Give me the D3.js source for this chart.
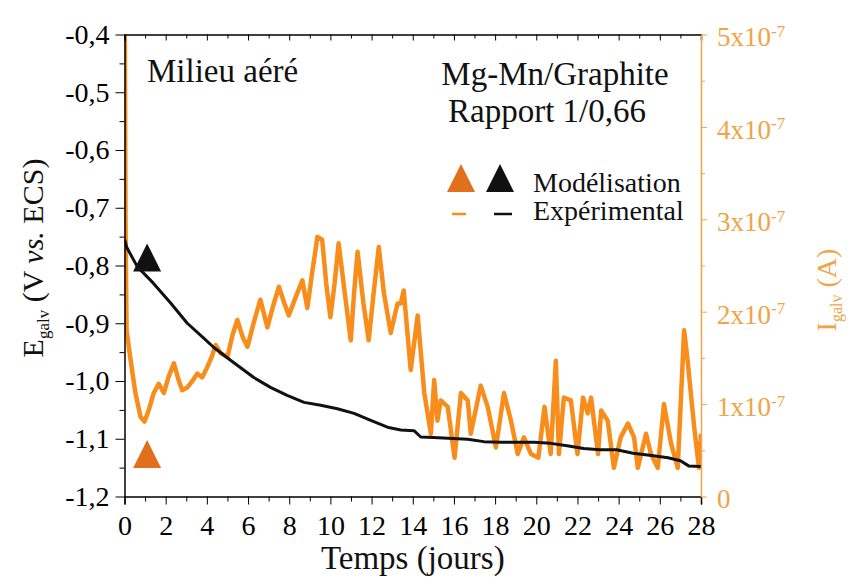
<!DOCTYPE html>
<html>
<head>
<meta charset="utf-8">
<script src="https://cdn.jsdelivr.net/npm/d3@7"></script>
<style>
  html, body { margin: 0; padding: 0; background: #fff; }
  svg { display: block; font-family: "Liberation Serif", "DejaVu Serif", serif; }
</style>
</head>
<body>
<svg id="chart" width="850" height="577"></svg>
<script>
// ---------- DATA ----------
// Experimental galvanic potential (black, left axis), time in days
const tE = [0, 0.1, 0.62, 1.41, 2.24, 3.05, 3.86, 4.34, 5.15, 6.28, 7.09, 7.9, 8.72, 9.53, 10.34, 11.15, 11.96, 12.77, 13.42, 14.06, 14.39, 15.0, 16.67, 17.45, 18.3, 19.9, 20.7, 21.5, 22.3, 23.1, 23.9, 24.7, 25.6, 26.4, 27.0, 27.4, 28.0];
const E = [-0.755, -0.768, -0.802, -0.831, -0.865, -0.9, -0.926, -0.942, -0.964, -0.994, -1.011, -1.025, -1.037, -1.042, -1.048, -1.056, -1.068, -1.08, -1.085, -1.086, -1.097, -1.098, -1.101, -1.105, -1.106, -1.106, -1.108, -1.112, -1.117, -1.119, -1.119, -1.125, -1.129, -1.133, -1.138, -1.147, -1.148];

// Experimental galvanic current (orange, right axis), in units of 1e-7 A
const tI = [0, 0.05, 0.1, 0.3, 0.53, 0.78, 0.97, 1.17, 1.42, 1.66, 1.91, 2.15, 2.4, 2.6, 2.8, 3.05, 3.3, 3.53, 3.78, 4.02, 4.25, 4.43, 4.67, 5.0, 5.25, 5.48, 5.75, 5.97, 6.3, 6.6, 6.94, 7.2, 7.5, 7.75, 7.98, 8.3, 8.64, 8.88, 9.1, 9.37, 9.6, 9.8, 10.0, 10.2, 10.4, 10.7, 10.99, 11.15, 11.32, 11.6, 11.86, 12.1, 12.35, 12.6, 12.93, 13.26, 13.42, 13.56, 13.9, 14.24, 14.56, 14.88, 15.04, 15.2, 15.36, 15.7, 16.03, 16.34, 16.67, 16.82, 17.3, 17.64, 18.04, 18.43, 18.77, 19.1, 19.4, 19.74, 20.1, 20.4, 20.7, 20.95, 21.1, 21.34, 21.68, 22.0, 22.27, 22.5, 22.66, 23.0, 23.15, 23.47, 23.77, 24.1, 24.45, 24.75, 24.93, 25.33, 25.57, 25.9, 26.2, 26.55, 26.87, 27.18, 27.35, 27.67, 27.9, 28.0];
const I = [6.0, 3.0, 1.8, 1.47, 1.12, 0.86, 0.81, 0.93, 1.12, 1.22, 1.12, 1.3, 1.44, 1.28, 1.15, 1.18, 1.25, 1.33, 1.29, 1.4, 1.52, 1.64, 1.55, 1.51, 1.75, 1.91, 1.72, 1.62, 1.9, 2.13, 1.83, 2.05, 2.27, 2.1, 1.96, 2.15, 2.34, 2.04, 2.4, 2.81, 2.78, 2.3, 1.94, 2.3, 2.74, 2.2, 1.69, 2.2, 2.65, 2.1, 1.69, 2.2, 2.7, 2.2, 1.77, 2.09, 2.09, 2.23, 1.37, 1.96, 1.12, 0.68, 1.26, 0.82, 1.04, 0.97, 0.42, 1.12, 1.04, 0.68, 1.2, 0.97, 0.53, 1.12, 0.82, 0.46, 0.64, 0.46, 0.42, 0.97, 0.46, 1.47, 0.46, 1.07, 1.04, 0.46, 1.07, 0.9, 1.07, 0.46, 0.93, 0.82, 0.31, 0.64, 0.79, 0.64, 0.31, 0.68, 0.46, 0.31, 1.0, 0.57, 0.31, 1.8, 1.47, 0.75, 0.31, 0.68];

// Modelled points
const tModel = [1.1];
const EModel = [-0.786];
const IModel = [0.46];

// Axis ticks
const xTicks = d3.range(0, 29, 2);
const yLeftTicks = [-0.4, -0.5, -0.6, -0.7, -0.8, -0.9, -1.0, -1.1, -1.2];
const yRightTicks = [0, 1, 2, 3, 4, 5];

// Texts
const legendLabels = ["Modélisation", "Expérimental"];
const annotMilieu = "Milieu aéré";
const annotSystem = ["Mg-Mn/Graphite", "Rapport 1/0,66"];

// ---------- LAYOUT ----------
const FONT = '"Liberation Serif", "DejaVu Serif", serif';
const L = 124.5, R = 701, T = 34.5, B = 496.5;
const cBlack = "#111";
const cOrange = "#f88d1c";
const cOrangeDark = "#e0701c";
const cOrangeAxis = "#f0a446";

const svg = d3.select("#chart");

const x = d3.scaleLinear().domain([0, 28]).range([L, R]);
const yL = d3.scaleLinear().domain([-1.2, -0.4]).range([B, T]);
const yR = d3.scaleLinear().domain([0, 5]).range([B, T]);

svg.append("defs").append("clipPath").attr("id", "clip")
  .append("rect").attr("x", L).attr("y", T).attr("width", R - L).attr("height", B - T);

// ---------- DATA LINES ----------
const dataI = tI.map((t, i) => [t, I[i]]);
const dataE = tE.map((t, i) => [t, E[i]]);

svg.append("path")
  .datum(dataI)
  .attr("clip-path", "url(#clip)")
  .attr("fill", "none")
  .attr("stroke", cOrange)
  .attr("stroke-width", 4.5)
  .attr("stroke-linejoin", "round")
  .attr("d", d3.line().x(d => x(d[0])).y(d => yR(d[1])));

svg.append("path")
  .datum(dataE)
  .attr("clip-path", "url(#clip)")
  .attr("fill", "none")
  .attr("stroke", cBlack)
  .attr("stroke-width", 3)
  .attr("stroke-linejoin", "round")
  .attr("d", d3.line().x(d => x(d[0])).y(d => yL(d[1])));

// triangle symbol (width ~28, height ~28), centred on bbox
const tri = {
  draw(ctx, size) {
    const w = Math.sqrt(size), h = w;
    ctx.moveTo(0, -h / 2);
    ctx.lineTo(w / 2, h / 2);
    ctx.lineTo(-w / 2, h / 2);
    ctx.closePath();
  }
};
const triPath = d3.symbol().type(tri).size(28 * 28)();

svg.selectAll(".modE").data(tModel).join("path")
  .attr("d", triPath).attr("fill", cBlack)
  .attr("transform", (d, i) => `translate(${x(d)},${yL(EModel[i])})`);
svg.selectAll(".modI").data(tModel).join("path")
  .attr("d", triPath).attr("fill", cOrangeDark)
  .attr("transform", (d, i) => `translate(${x(d)},${yR(IModel[i])})`);

// ---------- AXES ----------
// bottom
svg.append("g").attr("transform", `translate(0,${B})`)
  .call(d3.axisBottom(x).tickValues(xTicks).tickSize(8).tickPadding(11).tickFormat(d3.format("d")));
svg.append("g").attr("transform", `translate(0,${B})`)
  .call(d3.axisBottom(x).tickValues(d3.range(1, 28, 2)).tickSize(5).tickFormat(""))
  .call(g => g.select(".domain").remove());
// top (inward ticks)
svg.append("g").attr("transform", `translate(0,${T})`)
  .call(d3.axisBottom(x).tickValues(xTicks).tickSizeOuter(0).tickSize(6).tickFormat(""));
svg.append("g").attr("transform", `translate(0,${T})`)
  .call(d3.axisBottom(x).tickValues(d3.range(1, 28, 2)).tickSize(4).tickFormat(""))
  .call(g => g.select(".domain").remove());

// left
svg.append("g").attr("transform", `translate(${L},0)`)
  .call(d3.axisLeft(yL).tickValues(yLeftTicks).tickSize(9).tickSizeOuter(0).tickPadding(6)
    .tickFormat(d => d.toFixed(1).replace(".", ",")));
svg.append("g").attr("transform", `translate(${L},0)`)
  .call(d3.axisLeft(yL).tickValues(d3.range(-1.15, -0.4, 0.1)).tickSize(5).tickFormat(""))
  .call(g => g.select(".domain").remove());

// right (orange)
const gR = svg.append("g").attr("transform", `translate(${R},0)`)
  .call(d3.axisRight(yR).tickValues(yRightTicks).tickSize(6).tickSizeOuter(0).tickPadding(10).tickFormat(""));
svg.append("g").attr("transform", `translate(${R},0)`)
  .call(d3.axisRight(yR).tickValues(d3.range(0.5, 5, 1)).tickSize(4).tickFormat(""))
  .call(g => g.select(".domain").remove())
  .call(g => g.selectAll("line").attr("stroke", cOrangeAxis));
gR.select(".domain").attr("stroke", cOrangeAxis).attr("stroke-width", 1.5);
gR.selectAll(".tick line").attr("stroke", cOrangeAxis);
gR.selectAll(".tick text").each(function (d) {
  const t = d3.select(this).attr("fill", cOrangeAxis);
  if (d === 0) { t.text("0"); return; }
  t.append("tspan").text(d + "x10");
  t.append("tspan").attr("dy", "-0.55em").attr("font-size", "17px").text("-7");
});

svg.selectAll("g").attr("font-family", FONT);
svg.selectAll(".tick text").attr("font-size", "28px");
gR.selectAll(".tick text").attr("font-size", "27px").attr("dy", "0.42em");
svg.selectAll(".domain").attr("stroke-width", 1.5);

// ---------- AXIS TITLES ----------
svg.append("text")
  .attr("x", x(14)).attr("y", 569)
  .attr("text-anchor", "middle").attr("font-size", "33px").attr("fill", cBlack)
  .text("Temps (jours)");

const lt = svg.append("text")
  .attr("transform", `translate(43,258) rotate(-90)`)
  .attr("text-anchor", "middle").attr("font-size", "30px").attr("fill", cBlack);
lt.append("tspan").text("E");
lt.append("tspan").attr("font-size", "17px").attr("dy", "0.35em").text("galv");
lt.append("tspan").attr("dy", "-0.2em").text(" (V ");
lt.append("tspan").attr("font-style", "italic").text("vs.");
lt.append("tspan").text(" ECS)");

const rt = svg.append("text")
  .attr("transform", `translate(836,290) rotate(-90)`)
  .attr("text-anchor", "middle").attr("font-size", "28px").attr("fill", cOrangeAxis);
rt.append("tspan").text("I");
rt.append("tspan").attr("font-size", "16px").attr("dy", "0.35em").text("galv");
rt.append("tspan").attr("dy", "-0.2em").text(" (A)");

// ---------- ANNOTATIONS ----------
svg.append("text").attr("x", 147).attr("y", 82).attr("font-size", "33px").attr("fill", cBlack).text(annotMilieu);
svg.append("text").attr("x", 555).attr("y", 85).attr("text-anchor", "middle").attr("font-size", "33px").attr("fill", cBlack).text(annotSystem[0]);
svg.append("text").attr("x", 547).attr("y", 122).attr("text-anchor", "middle").attr("font-size", "33px").attr("fill", cBlack).text(annotSystem[1]);

// ---------- LEGEND ----------
const lg = svg.append("g");
lg.append("path").attr("d", triPath).attr("fill", cOrangeDark).attr("transform", "translate(461,178)");
lg.append("path").attr("d", triPath).attr("fill", cBlack).attr("transform", "translate(500,178)");
lg.append("line").attr("x1", 452).attr("x2", 466).attr("y1", 214).attr("y2", 214).attr("stroke", cOrange).attr("stroke-width", 2.5);
lg.append("line").attr("x1", 494).attr("x2", 512).attr("y1", 214).attr("y2", 214).attr("stroke", cBlack).attr("stroke-width", 2.5);
lg.append("text").attr("x", 533).attr("y", 192).attr("font-size", "28px").attr("fill", cBlack).text(legendLabels[0]);
lg.append("text").attr("x", 533).attr("y", 220).attr("font-size", "28px").attr("fill", cBlack).text(legendLabels[1]);
</script>
</body>
</html>
